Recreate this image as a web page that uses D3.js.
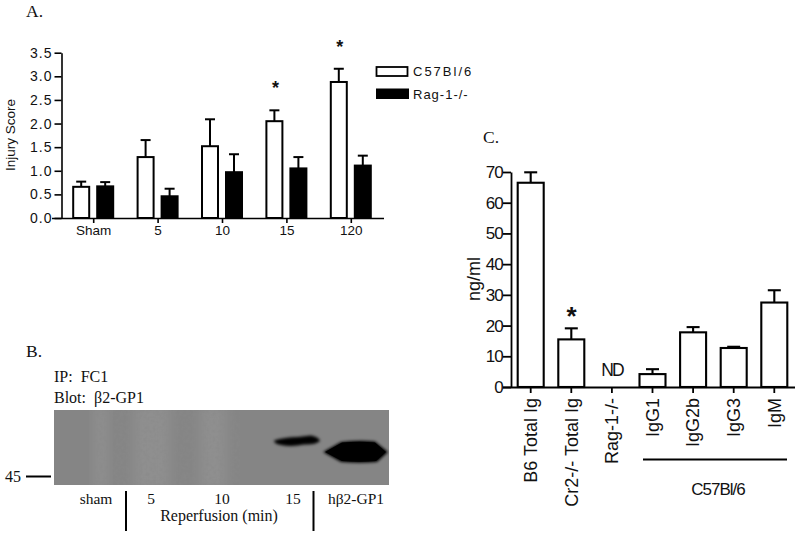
<!DOCTYPE html>
<html>
<head>
<meta charset="utf-8">
<script src="https://cdn.jsdelivr.net/npm/d3@7"></script>
<style>
html, body { margin: 0; padding: 0; background: #fff; }
svg { display: block; }
text { fill: #111; }
.sans { font-family: "Liberation Sans", Arial, sans-serif; }
.serif { font-family: "Liberation Serif", "Times New Roman", serif; }
</style>
</head>
<body>
<script>
// panel A
var timePoints = ['Sham', '5', '10', '15', '120'];
var c57Scores = [0.66, 1.29, 1.52, 2.05, 2.88];
var c57Errors = [0.11, 0.36, 0.57, 0.23, 0.28];
var ragScores = [0.67, 0.46, 0.97, 1.05, 1.11];
var ragErrors = [0.09, 0.16, 0.38, 0.24, 0.21];
var injuryTicks = [0, 0.5, 1, 1.5, 2, 2.5, 3, 3.5];
var injuryStars = ['15', '120'];

// panel C
var igGroups = ['B6 Total Ig', 'Cr2-/- Total Ig', 'Rag-1-/-', 'IgG1', 'IgG2b', 'IgG3', 'IgM'];
var igValues = [66.5, 15.5, null, 4.2, 17.8, 12.7, 27.5];
var igErrors = [3.4, 3.6, null, 1.6, 1.7, 0.4, 4];
var igTicks = [0, 10, 20, 30, 40, 50, 60, 70];

// panel B
var blotLanes = ['sham', '5', '10', '15', 'hβ2-GP1'];

var svg = d3.select('body').append('svg').attr('width', 800).attr('height', 535);

function label(x, y, txt, cls, size) {
    return svg.append('text').attr('class', cls).attr('x', x).attr('y', y)
        .attr('font-size', size).text(txt);
}
function rule(x1, y1, x2, y2, w) {
    svg.append('line').attr('x1', x1).attr('y1', y1).attr('x2', x2).attr('y2', y2)
        .attr('stroke', '#000').attr('stroke-width', w);
}
function styleAxis(g, w) {
    g.selectAll('path.domain').attr('stroke', '#000').attr('stroke-width', w);
    g.selectAll('.tick line').attr('stroke', '#000').attr('stroke-width', w);
}
// error whisker going up from a bar: stem plus cap
function whisker(x, yTop, yBar, half, w) {
    svg.append('line').attr('x1', x).attr('x2', x).attr('y1', yTop).attr('y2', yBar)
        .attr('stroke', '#000').attr('stroke-width', w);
    svg.append('line').attr('x1', x - half).attr('x2', x + half).attr('y1', yTop).attr('y2', yTop)
        .attr('stroke', '#000').attr('stroke-width', w);
}

/* ---------- A ---------- */
label(26, 17, 'A.', 'serif', 17.5);

var yA = d3.scaleLinear().domain([0, 3.5]).range([218, 52.7]);
var xA = d3.scaleBand().domain(timePoints).range([61.5, 383.5]).paddingInner(0).paddingOuter(0);
var barA = 16;

timePoints.forEach(function(t, i) {
    var cx = xA(t) + xA.bandwidth() / 2;
    var wx = cx - 12.5, bx = cx + 11.5;
    whisker(wx, yA(c57Scores[i] + c57Errors[i]), yA(c57Scores[i]), 5, 2);
    whisker(bx, yA(ragScores[i] + ragErrors[i]), yA(ragScores[i]), 5, 2);
    svg.append('rect').attr('x', wx - barA / 2).attr('width', barA)
        .attr('y', yA(c57Scores[i])).attr('height', yA(0) - yA(c57Scores[i]))
        .attr('fill', '#fff').attr('stroke', '#000').attr('stroke-width', 2);
    svg.append('rect').attr('x', bx - barA / 2 - 1).attr('width', barA + 2)
        .attr('y', yA(ragScores[i]) - 1).attr('height', yA(0) - yA(ragScores[i]) + 1)
        .attr('fill', '#000');
    if (injuryStars.indexOf(t) >= 0) {
        label(wx + 1, yA(c57Scores[i] + c57Errors[i]) - 16, '*', 'sans', 18)
            .attr('text-anchor', 'middle').attr('font-weight', 'bold');
    }
});

var axisAy = svg.append('g').attr('transform', 'translate(61.5,0)').attr('class', 'sans')
    .call(d3.axisLeft(yA).tickValues(injuryTicks).tickFormat(d3.format('.1f')).tickSize(7).tickSizeOuter(0));
styleAxis(axisAy, 1.6);
axisAy.selectAll('text').attr('font-size', 14).attr('letter-spacing', 1).attr('x', -9);

var axisAx = svg.append('g').attr('transform', 'translate(0,218)').attr('class', 'sans')
    .call(d3.axisBottom(xA).tickSize(5).tickSizeOuter(0));
styleAxis(axisAx, 1.6);
axisAx.select('path.domain').attr('d', 'M52,0.5H384');
axisAx.selectAll('text').attr('font-size', 13.5).attr('y', 7);

label(14.5, 135, 'Injury Score', 'sans', 13.5)
    .attr('text-anchor', 'middle').attr('transform', 'rotate(-90 14.5 135)');

svg.append('rect').attr('x', 376.5).attr('y', 67).attr('width', 31).attr('height', 9)
    .attr('fill', '#fff').attr('stroke', '#000').attr('stroke-width', 1.8);
svg.append('rect').attr('x', 376).attr('y', 88.5).attr('width', 33).attr('height', 10.5).attr('fill', '#000');
label(413, 76, 'C57Bl/6', 'sans', 13).attr('letter-spacing', 2);
label(413, 99, 'Rag-1-/-', 'sans', 13).attr('letter-spacing', 1);

/* ---------- B ---------- */
label(26, 357, 'B.', 'serif', 17.5);
label(54, 382, 'IP:  FC1', 'serif', 16).style('white-space', 'pre');
label(54, 403, 'Blot:  β2-GP1', 'serif', 16).style('white-space', 'pre');

var defs = svg.append('defs');
var smooth = defs.append('filter').attr('id', 'soft').attr('x', '-20%').attr('y', '-60%')
    .attr('width', '140%').attr('height', '220%');
smooth.append('feGaussianBlur').attr('stdDeviation', 1.5);
var softer = defs.append('filter').attr('id', 'softer').attr('x', '-30%').attr('y', '-30%')
    .attr('width', '160%').attr('height', '160%');
softer.append('feGaussianBlur').attr('stdDeviation', 6);
var grain = defs.append('filter').attr('id', 'grain').attr('x', 0).attr('y', 0)
    .attr('width', '100%').attr('height', '100%');
grain.append('feTurbulence').attr('type', 'fractalNoise').attr('baseFrequency', 0.3)
    .attr('numOctaves', 2).attr('seed', 4);
grain.append('feColorMatrix').attr('type', 'matrix')
    .attr('values', '0 0 0 0 0.25  0 0 0 0 0.25  0 0 0 0 0.25  1.3 0 0 0 -0.5');
var clip = defs.append('clipPath').attr('id', 'gel');
clip.append('rect').attr('x', 54).attr('y', 410).attr('width', 335).attr('height', 75);

var gel = svg.append('g').attr('clip-path', 'url(#gel)');
gel.append('rect').attr('x', 54).attr('y', 410).attr('width', 335).attr('height', 75).attr('fill', '#858585');
// paler vertical smears down the lanes
gel.append('rect').attr('x', 94).attr('y', 405).attr('width', 14).attr('height', 85).attr('fill', '#8f8f8f').attr('filter', 'url(#softer)');
gel.append('rect').attr('x', 134).attr('y', 405).attr('width', 36).attr('height', 85).attr('fill', '#8f8f8f').attr('filter', 'url(#softer)');
gel.append('rect').attr('x', 200).attr('y', 405).attr('width', 26).attr('height', 85).attr('fill', '#8f8f8f').attr('filter', 'url(#softer)');
gel.append('rect').attr('x', 90).attr('y', 410).attr('width', 150).attr('height', 75).attr('filter', 'url(#grain)');
// 15 min band
gel.append('path').attr('d', 'M274,440.5 Q285,437 298,437 L311,435.5 Q319,437 320,441 Q315,445 304,444.5 Q292,447 281,445 Q274,443.5 274,440.5Z')
    .attr('fill', '#050505').attr('filter', 'url(#soft)');
// purified protein band
gel.append('path').attr('d', 'M323,452 L341,442 Q360,440 375,441.5 L388,452 L377,462 Q360,463.5 341,462Z')
    .attr('fill', '#000').attr('filter', 'url(#soft)');
gel.append('path').attr('d', 'M325,452 L342,442.5 Q360,441 375,442.5 L386,452 L376,461 Q360,462.5 342,461Z').attr('fill', '#000');

label(5, 482, '45', 'serif', 16);
rule(26, 476.5, 51, 476.5, 2);

var laneX = d3.scaleOrdinal().domain(blotLanes).range([96, 151, 222, 293, 356]);
svg.selectAll('text.lane').data(blotLanes).enter().append('text')
    .attr('class', 'lane serif').attr('x', function(d) { return laneX(d); }).attr('y', 503.5)
    .attr('text-anchor', 'middle').attr('font-size', 15.5).text(function(d) { return d; });
label(219, 521, 'Reperfusion (min)', 'serif', 16).attr('text-anchor', 'middle');
rule(126, 491, 126, 531, 2);
rule(313.5, 491, 313.5, 531, 2);

/* ---------- C ---------- */
label(483, 143, 'C.', 'serif', 17.5);

var yC = d3.scaleLinear().domain([0, 70]).range([387, 172]);
var xC = d3.scaleBand().domain(igGroups).range([510.4, 794.6]);
var barC = 26;

igGroups.forEach(function(g, i) {
    if (igValues[i] === null) return;
    var cx = xC(g) + xC.bandwidth() / 2;
    whisker(cx, yC(igValues[i] + igErrors[i]), yC(igValues[i]), 6.5, 2.1);
    svg.append('rect').attr('x', cx - barC / 2).attr('width', barC)
        .attr('y', yC(igValues[i])).attr('height', yC(0) - yC(igValues[i]))
        .attr('fill', '#fff').attr('stroke', '#000').attr('stroke-width', 2.1);
});

var axisCy = svg.append('g').attr('transform', 'translate(511,0)').attr('class', 'sans')
    .call(d3.axisLeft(yC).tickValues(igTicks).tickSize(8).tickSizeOuter(0));
styleAxis(axisCy, 1.8);
axisCy.selectAll('text').attr('font-size', 17).attr('x', -8).attr('letter-spacing', -0.8);

var axisCx = svg.append('g').attr('transform', 'translate(0,387)').attr('class', 'sans')
    .call(d3.axisBottom(xC).tickSize(6).tickSizeOuter(0));
styleAxis(axisCx, 1.8);
axisCx.select('path.domain').attr('d', 'M503,0.5H795');
axisCx.selectAll('text')
    .attr('font-size', 18)
    .attr('text-anchor', 'end')
    .attr('dy', '0.35em').attr('x', -11).attr('y', 0)
    .attr('transform', 'rotate(-90)');

label(474, 279, 'ng/ml', 'sans', 18)
    .attr('text-anchor', 'middle').attr('transform', 'rotate(-90 474 279)').attr('dy', '0.35em');
label(571.5, 325, '*', 'sans', 26).attr('text-anchor', 'middle').attr('font-weight', 'bold');
label(612, 376, 'ND', 'sans', 17.5).attr('text-anchor', 'middle').attr('letter-spacing', -2);
rule(643, 459.5, 787, 459.5, 1.8);
label(718, 495, 'C57Bl/6', 'sans', 17).attr('text-anchor', 'middle').attr('letter-spacing', -1);
</script>
</body>
</html>
